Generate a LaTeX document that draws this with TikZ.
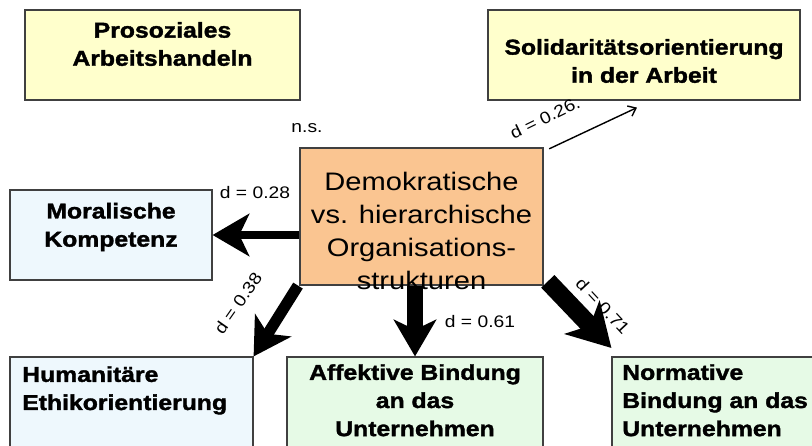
\documentclass[tikz,border=0pt]{standalone}
\usepackage{fontspec}
\setmainfont{Liberation Sans}[FakeStretch=1.15, BoldFeatures={FakeBold=1.6}]
\usepackage{xcolor}
\usepackage{tikz}
\usetikzlibrary{positioning,calc,arrows.meta}

\definecolor{boxyellow}{HTML}{FFFFCC}
\definecolor{boxorange}{HTML}{FAC591}
\definecolor{boxblue}{HTML}{EEF8FD}
\definecolor{boxgreen}{HTML}{E6FAE6}
\definecolor{boxline}{HTML}{404040}

\tikzset{
    box/.style={draw=boxline, line width=0.8pt, rectangle, inner sep=0pt},
    boxtext/.style={font=\bfseries\fontsize{15.3}{20}\selectfont, inner sep=0pt},
    dlabel/.style={font=\fontsize{11.9}{13}\selectfont, inner sep=0pt},
    bigarrow/.style={line width=#1, -{Stealth[length=26pt, width=30pt, inset=7pt]}}
}

\begin{document}
\begin{tikzpicture}[x=0.025cm, y=-0.025cm]
    \useasboundingbox (0,0) rectangle (812,446);

    % Boxes
    \node [box, fill=boxyellow, minimum width=6.875cm, minimum height=2.25cm] (pro) at (162.5,55) {};
    \node [box, fill=boxyellow, minimum width=7.8cm, minimum height=2.25cm] (sol) at (644,55) {};
    \node [box, fill=boxorange, minimum width=6.075cm, minimum height=3.425cm] (org) at (421.5,216.5) {};
    \node [box, fill=boxblue, minimum width=5.05cm, minimum height=2.25cm] (mor) at (111,235) {};
    \node [box, fill=boxblue, minimum width=6.075cm, minimum height=2.6cm] (hum) at (131.5,409) {};
    \node [box, fill=boxgreen, minimum width=6.4cm, minimum height=2.6cm] (aff) at (415,409) {};
    \node [box, fill=boxgreen, minimum width=5.5cm, minimum height=2.6cm] (nor) at (722,409) {};

    % Box texts
    \node [boxtext, align=center] (protext) at (162.5,44) {Prosoziales\\Arbeitshandeln};
    \node [boxtext, align=center] (soltext) at (644,61) {Solidaritätsorientierung\\in der Arbeit};
    \node [align=center, inner sep=0pt, font=\fontsize{18}{23.3}\selectfont] (orgtext) at (421.5,231) {Demokratische\\vs. hierarchische\\Organisations-\\strukturen};
    \node [boxtext, align=center] (mortext) at (111,227) {Moralische\\Kompetenz};
    \node [boxtext, align=left, anchor=north west] (humtext) at (22,366) {Humanitäre\\Ethikorientierung};
    \node [boxtext, align=center, anchor=north] (afftext) at (415,364) {Affektive Bindung\\an das\\Unternehmen};
    \node [boxtext, align=left, anchor=north west] (nortext) at (622,364) {Normative\\Bindung an das\\Unternehmen};

    % Arrows
    \draw [bigarrow=5.7pt] (org.west |- mor.east) -- (mor.east);
    \draw [bigarrow=8pt] ([xshift=-1pt]org.south west) -- (hum.north east);
    \draw [bigarrow=11pt] (aff.north |- org.south) -- (aff.north);
    \draw [line width=13pt, -{Stealth[length=30pt, width=34pt, inset=8pt]}] ([xshift=3pt,yshift=3pt]org.south east) -- ([yshift=6pt]nor.north west);
    \draw [line width=1pt, -{Straight Barb[length=5pt, width=8pt]}] ([xshift=4pt,yshift=-1pt]org.north east) -- ([xshift=-5pt,yshift=-5pt]sol.south);

    % Labels
    \node [dlabel] (ns) at (307,128) {n.s.};
    \node [dlabel] (d28) at (255,193) {d = 0.28};
    \node [dlabel, rotate=55] (d38) at (238,303) {d = 0.38};
    \node [dlabel] (d61) at (480,322) {d = 0.61};
    \node [dlabel, rotate=-47] (d71) at (603,306) {d = 0.71};
    \node [dlabel, rotate=26] (d26) at (545,118) {d = 0.26.};
\end{tikzpicture}
\end{document}
